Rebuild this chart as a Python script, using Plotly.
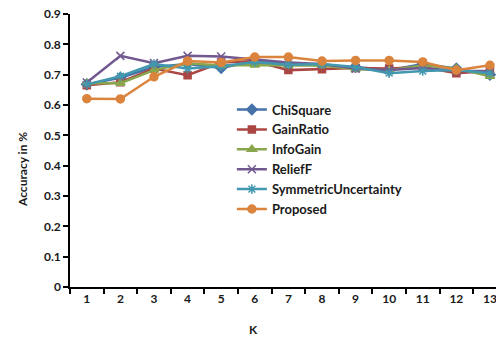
import plotly.graph_objects as go

k = list(range(1, 14))
chisquare = [0.668, 0.690, 0.725, 0.735, 0.722, 0.745, 0.735, 0.730, 0.725, 0.715, 0.735, 0.720, 0.700]
gainratio = [0.665, 0.675, 0.720, 0.698, 0.740, 0.745, 0.715, 0.718, 0.722, 0.720, 0.725, 0.705, 0.712]
infogain = [0.672, 0.672, 0.715, 0.738, 0.730, 0.732, 0.730, 0.730, 0.718, 0.715, 0.730, 0.720, 0.695]
relieff = [0.674, 0.762, 0.738, 0.762, 0.760, 0.750, 0.740, 0.735, 0.720, 0.715, 0.722, 0.712, 0.712]
symunc = [0.668, 0.695, 0.735, 0.720, 0.728, 0.742, 0.733, 0.735, 0.725, 0.705, 0.712, 0.715, 0.705]
proposed = [0.621, 0.620, 0.693, 0.745, 0.740, 0.758, 0.758, 0.745, 0.747, 0.747, 0.742, 0.715, 0.731]

series = [
    ("ChiSquare", chisquare, "#4572A7", "diamond", 8),
    ("GainRatio", gainratio, "#AA4643", "square", 7),
    ("InfoGain", infogain, "#89A54E", "triangle-up", 8),
    ("ReliefF", relieff, "#71588F", "x-thin", 8),
    ("SymmetricUncertainty", symunc, "#4198AF", "asterisk", 8),
    ("Proposed", proposed, "#DB843D", "circle", 8),
]

fig = go.Figure()
for name, vals, color, sym, sz in series:
    fig.add_trace(go.Scatter(
        x=k, y=vals, name=name, mode="lines+markers",
        line=dict(color=color, width=2.5),
        marker=dict(symbol=sym, size=sz, color=color,
                    line=dict(color=color, width=1.5)),
    ))

font_family = "Lato, Open Sans, sans-serif"
fig.update_layout(
    width=496, height=338,
    margin=dict(l=70, r=0, t=14, b=51),
    plot_bgcolor="white", paper_bgcolor="white",
    font=dict(family=font_family, size=12, color="#1a1a1a"),
    showlegend=True,
    legend=dict(x=0.38, y=0.705, xanchor="left", yanchor="top",
                bgcolor="rgba(0,0,0,0)",
                font=dict(family=font_family, size=13, color="#1a1a1a", weight="bold"),
                itemwidth=30, tracegroupgap=0),
    xaxis=dict(
        range=[0.5, 13.18], tickvals=k, ticktext=[str(v) for v in k],
        ticks="", showgrid=False, zeroline=False, ticklabeloverflow="allow",
        showline=True, linecolor="black", linewidth=1.5,
        tickfont=dict(family=font_family, size=12, weight="bold"),
        minor=dict(tickvals=[v + 0.5 for v in range(0, 13)], ticks="outside",
                   ticklen=5, tickcolor="black", tickwidth=1.5, showgrid=False),
    ),
    yaxis=dict(
        range=[0, 0.9], tickvals=[i / 10 for i in range(10)],
        ticktext=["0"] + [f"0.{i}" for i in range(1, 10)],
        ticks="outside", ticklen=5, tickcolor="black", tickwidth=1.5,
        showgrid=False, zeroline=False,
        showline=True, linecolor="black", linewidth=1.5,
        tickfont=dict(family=font_family, size=12, weight="bold"),
    ),
)
fig.add_annotation(text="K", xref="paper", yref="paper", x=(253 - 70) / 426, y=-(330 - 287) / 273,
                   showarrow=False, font=dict(family=font_family, size=12, weight="bold"),
                   xanchor="center", yanchor="middle")
fig.add_annotation(text="Accuracy in %", xref="paper", yref="paper", x=-(70 - 22) / 426,
                   y=(287 - 170) / 273, textangle=-90, showarrow=False,
                   font=dict(family=font_family, size=12, weight="bold"),
                   xanchor="center", yanchor="middle")

fig.write_html("out.html")
